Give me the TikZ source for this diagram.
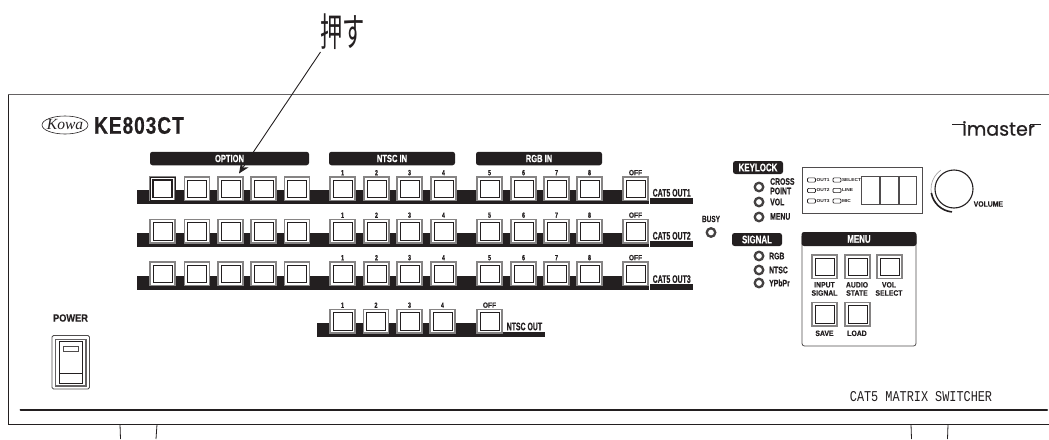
\documentclass[tikz,border=0pt]{standalone}
\usepackage{fontspec}
\usetikzlibrary{arrows.meta,calc,shapes.geometric}
\setmainfont{Liberation Sans}
\newfontfamily\cjkf{Noto Sans CJK JP}
\newfontfamily\fcond[FakeStretch=.72,BoldFeatures={FakeBold=.35}]{Liberation Sans}
\newfontfamily\frow[FakeStretch=.63,BoldFeatures={FakeBold=.35}]{Liberation Sans}
\newfontfamily\fnarr[FakeStretch=.88,BoldFeatures={FakeBold=.2}]{Liberation Sans}
\newfontfamily\fwide[FakeStretch=1.12]{Liberation Sans}
\newfontfamily\flogo[FakeBold=.6]{Poppins}
\newfontfamily\fmono{Liberation Mono}
\newfontfamily\fser{Liberation Serif}
\newfontfamily\fmodel[FakeStretch=.795,LetterSpace=4,BoldFeatures={FakeBold=.4}]{Liberation Sans}
\newcommand{\fz}[1]{\fontsize{#1}{#1}\selectfont}
\definecolor{ink}{HTML}{231F20}
\tikzset{
  btnouter/.style={draw=ink!55,line width=1.3pt,fill=white,minimum width=25pt,minimum height=23.5pt,inner sep=0,outer sep=0},
  btninner/.style={draw=ink,line width=.8pt,fill=white,minimum width=19pt,minimum height=17.5pt,inner sep=0},
  header/.style={fill=ink,rounded corners=2.5pt},
  hdtext/.style={text=white,font=\fcond\bfseries\fz{10.5},inner sep=0},
  numtext/.style={text=ink,font=\fcond\bfseries\fz{7.5},inner sep=0,anchor=south},
  offtext/.style={text=ink,font=\fnarr\bfseries\fz{7.5},inner sep=0,anchor=south},
  sidetext/.style={text=ink,font=\fcond\bfseries\fz{9.5},inner sep=0,anchor=west},
  rowlabel/.style={text=ink,font=\frow\bfseries\fz{11},inner sep=0,anchor=west},
  menutext/.style={text=ink,font=\fnarr\bfseries\fz{7.8},inner sep=0},
  led/.style={draw=ink!85,line width=2.3pt,fill=white,circle,minimum size=8.5pt,inner sep=0},
  tinyled/.style={draw=ink,line width=.6pt,fill=white,rounded corners=1pt,minimum width=8pt,minimum height=4.2pt,inner sep=0},
  tinytext/.style={text=ink,font=\fwide\bfseries\fz{4.3},inner sep=0,anchor=west},
  window/.style={draw=ink!80,line width=.9pt,fill=white,minimum width=17.5pt,minimum height=28pt,inner sep=0},
}
\newcommand{\btn}[3]{\node[btnouter] (#1) at (#2+12.5,#3+11.75) {}; \node[btninner] at (#1) {};}
\begin{document}
\begin{tikzpicture}[x=1pt,y=-1pt]
\useasboundingbox (0,0) rectangle (1049,439);
% panel
\draw[ink!70,line width=1.2pt] (8,94.5) -- (1049,94.5);
\draw[ink,line width=.8pt] (1049,424.3) -- (8.3,424.3) -- (8.3,94.5);
\draw[ink,line width=2pt,line cap=round] (20.5,409.7) -- (1047,409.7);
\foreach \a/\b in {120/120.5,157/156,911/911.5,948/947.5}
  \draw[ink,line width=.8pt] (\a,424.3) -- (\b,439);
% brand
\node[draw=ink,line width=.6pt,ellipse,minimum width=46pt,minimum height=18pt,inner sep=0] (oval) at (65,125) {};
\node[text=ink,font=\fser\itshape\fz{15.5},inner sep=0] (kowa) at (oval) {Kowa};
\node[text=ink,font=\fmodel\bfseries\fz{24},inner sep=0,anchor=west] (model) at (94,125.5) {KE803CT};
\node[text=ink,font=\flogo\fz{19},inner sep=0] (imaster) at (998.5,128.5) {imaster};
\draw[ink,line width=1.3pt] (952,124.8) -- (965,124.8);
\draw[ink,line width=1.3pt] (1030,124.8) -- (1041,124.8);
% headers
\node[header,minimum width=159pt,minimum height=13.5pt,inner sep=0] (hopt) at (229.5,158.5) {};
\node[hdtext] at (hopt) {OPTION};
\node[header,minimum width=126pt,minimum height=13.5pt,inner sep=0] (hntsc) at (392,158.5) {};
\node[hdtext] at (hntsc) {NTSC IN};
\node[header,minimum width=126pt,minimum height=13.5pt,inner sep=0] (hrgb) at (539,158.5) {};
\node[hdtext] at (hrgb) {RGB IN};
% button rows
\foreach \r/\ty/\by in {1/177/190,2/219.5/233,3/262/276.3}{
  \fill[ink] (137,\by) rectangle (648.5,\by+13.5);
  \fill[ink] (650,\by+8) rectangle (692.5,\by+13.5);
  \foreach \i/\x in {1/150,2/184.5,3/218,4/251,5/284.5}{ \btn{o\r-\i}{\x}{\ty} }
  \foreach \i/\x/\t in {1/330/1,2/364/2,3/397/3,4/431/4,5/477/5,6/511/6,7/544/7,8/577/8}{
    \btn{n\r-\i}{\x}{\ty}
    \node[numtext] at ($(n\r-\i.north)+(0,-1.5)$) {\t};
  }
  \btn{f\r}{623}{\ty}
  \node[offtext] at ($(f\r.north)+(0,-1.5)$) {OFF};
  \node[rowlabel] (c\r) at (652.5,\by+2.8) {CAT5 OUT\r};
}
\node[draw=ink,line width=1pt,minimum width=25pt,minimum height=23.5pt,inner sep=0] at (o1-1) {};
\node[draw=ink,line width=1.2pt,minimum width=19pt,minimum height=17.5pt,inner sep=0] at (o1-1) {};
% NTSC out row
\fill[ink] (317,323) rectangle (502.5,337);
\fill[ink] (502.5,332) rectangle (545,337);
\foreach \i/\x in {1/330,2/363.5,3/397,4/430}{
  \btn{t\i}{\x}{309.5}
  \node[numtext] at ($(t\i.north)+(0,-1.5)$) {\i};
}
\btn{toff}{477}{309.5}
\node[offtext] at ($(toff.north)+(0,-1.5)$) {OFF};
\node[rowlabel] (tlab) at (506.5,326.5) {NTSC OUT};
% busy
\node[text=ink,font=\fcond\bfseries\fz{9},inner sep=0] (busy) at (711,219) {BUSY};
\node[led] (busyled) at (711,232.5) {};
% keylock
\node[header,minimum width=50pt,minimum height=13pt,inner sep=0] (hkey) at (758,167.5) {};
\node[hdtext,font=\fcond\bfseries\fz{11}] at (hkey) {KEYLOCK};
\node[led] (k1) at (759,187) {};
\node[led] (k2) at (759,202) {};
\node[led] (k3) at (759,217) {};
\node[sidetext] at (770,181.5) {CROSS};
\node[sidetext] at (770,191) {POINT};
\node[sidetext] at (770,202) {VOL};
\node[sidetext] at (770,216.5) {MENU};
% signal
\node[header,minimum width=50pt,minimum height=13pt,inner sep=0] (hsig) at (757,239.5) {};
\node[hdtext,font=\fcond\bfseries\fz{11}] at (hsig) {SIGNAL};
\node[led] (s1) at (759,256) {};
\node[led] (s2) at (759,270) {};
\node[led] (s3) at (759,283) {};
\node[sidetext] at (769,256) {RGB};
\node[sidetext] at (769,270) {NTSC};
\node[sidetext] at (769,283) {YPbPr};
% display
\node[draw=ink!80,line width=.9pt,minimum width=119.5pt,minimum height=46pt,inner sep=0] (disp) at (862.5,190) {};
\node[window] (w1) at (870.5,190) {};
\node[window] (w2) at (889.5,190) {};
\node[window] (w3) at (908,190) {};
\foreach \n/\y/\a/\b in {1/180/OUT1/SELECT,2/190.5/OUT2/LINE,3/201/OUT3/MIC}{
  \node[tinyled] (la\n) at (811.5,\y) {};
  \node[tinyled] (lb\n) at (837,\y) {};
  \node[tinytext] at (816.5,\y) {\a};
  \node[tinytext] at (841.8,\y) {\b};
}
% volume knob
\node[draw=ink,line width=1.1pt,circle,minimum size=38pt,inner sep=0] (knob) at (954,189) {};
\draw[ink!40,line width=.7pt] (knob) ++(100:23) arc[start angle=100,end angle=235,radius=23];
\draw[ink,line width=1.6pt] (knob) ++(95:23) arc[start angle=95,end angle=170,radius=23];
\node[text=ink,font=\fnarr\bfseries\fz{7.8},inner sep=0,anchor=west] (vol) at (973.5,204) {VOLUME};
% menu
\draw[ink!80,line width=.8pt,rounded corners=2.5pt] (802,236) -- (802,346) -- (916,346) -- (916,236);
\node[header,minimum width=115pt,minimum height=14pt,inner sep=0] (hmenu) at (859,239) {};
\node[hdtext,font=\fcond\bfseries\fz{11}] at (hmenu) {MENU};
\btn{m1}{812}{255}
\btn{m2}{845}{255}
\btn{m3}{877}{255}
\btn{m4}{812}{302.5}
\btn{m5}{845}{302.5}
\node[menutext] at (824.5,284.8) {INPUT};
\node[menutext] at (824.5,293) {SIGNAL};
\node[menutext] at (857,284.8) {AUDIO};
\node[menutext] at (857,293) {STATE};
\node[menutext] at (889,284.8) {VOL};
\node[menutext] at (889,293) {SELECT};
\node[menutext] at (824.5,333.3) {SAVE};
\node[menutext] at (857,333.3) {LOAD};
% power
\node[text=ink,font=\fnarr\bfseries\fz{10.5},inner sep=0] (pw) at (70.5,318) {POWER};
\draw[ink!80,line width=.8pt,rounded corners=1.5pt] (52,335.5) rectangle (89.5,389);
\draw[ink!70,line width=1.4pt] (55.5,339.5) rectangle (86,386);
\draw[ink,line width=.9pt] (59,341.5) rectangle (82.5,383);
\draw[ink,line width=.7pt] (59,373) -- (82.5,373);
\draw[ink!80,line width=.7pt] (63,346.5) rectangle (78,351.5);
% bottom right title
\node[text=ink,font=\fmono\fz{15},xscale=.79,inner sep=0] (title) at (921,397) {CAT5 MATRIX SWITCHER};
% callout
\node[text=ink,font=\cjkf\fz{39},xscale=.57,inner sep=0,anchor=south west] (oshi) at (320.5,50) {押す};
\coordinate (tip) at (239,173.5);
\draw[ink,line width=.9pt,-{Stealth[length=10.5pt,width=9pt]}] ($(oshi.south west)+(0,2)$) -- (tip);
\end{tikzpicture}
\end{document}
